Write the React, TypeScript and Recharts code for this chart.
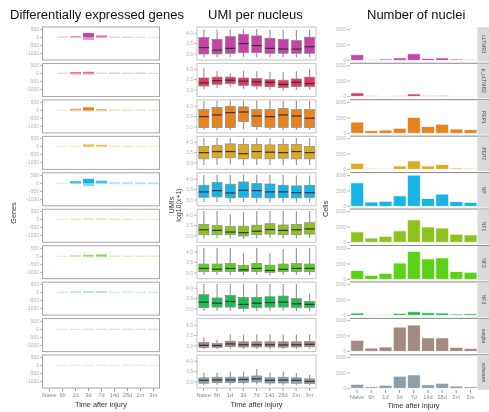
import { BarChart, Bar, XAxis, YAxis, Cell } from 'recharts'

const TIMES = ['Naive', '6h', '1d', '3d', '7d', '14d', '28d', '2m', '3m']
const CELL_TYPES = ['cLTMR1', 'p_cLTMR2', 'PEP1', 'PEP2', 'NP', 'NF1', 'NF2', 'NF3', 'satglia', 'schwann']
const TYPE_COLORS = ['#c843a8', '#e6355f', '#e8831e', '#dcab1f', '#17b4e8', '#8dc21f', '#5ad317', '#1bbf4f', '#a38a80', '#8e9faa']

// DE genes vs naive, 6h..3m
const DE_UP = [
  [50, 80, 270, 125, 45, 45, 35, 30],
  [40, 85, 100, 40, 45, 40, 45, 35],
  [35, 100, 190, 80, 45, 45, 40, 40],
  [35, 40, 125, 100, 45, 45, 40, 40],
  [35, 145, 290, 170, 55, 55, 50, 50],
  [35, 50, 55, 55, 45, 45, 35, 35],
  [35, 65, 100, 120, 45, 45, 40, 40],
  [35, 55, 65, 65, 40, 40, 40, 40],
  [35, 35, 40, 40, 40, 40, 40, 40],
  [35, 35, 35, 35, 25, 35, 35, 35],
]
const DE_DOWN = [
  [-30, -40, -170, -45, -35, -35, -30, -25],
  [-30, -80, -80, -30, -40, -35, -40, -30],
  [-30, -60, -60, -60, -40, -40, -35, -35],
  [-30, -35, -60, -60, -40, -40, -35, -35],
  [-30, -45, -170, -25, -60, -60, -55, -55],
  [-30, -40, -40, -40, -35, -35, -30, -30],
  [-30, -40, -60, -60, -35, -35, -35, -35],
  [-30, -35, -35, -35, -30, -30, -30, -30],
  [-30, -30, -35, -35, -35, -35, -35, -35],
  [-30, -30, -30, -30, -25, -30, -30, -30],
]

// log10(UMI+1) per nucleus
const UMI_LO = [
  [2.84, 2.84, 2.85, 2.86, 2.86, 2.85, 2.85, 2.85, 2.85],
  [3.03, 3.1, 3.15, 3.05, 3.02, 3.0, 2.95, 3.0, 3.0],
  [2.85, 2.85, 2.85, 2.9, 2.86, 2.85, 2.85, 2.85, 2.85],
  [2.9, 2.92, 2.92, 2.9, 2.9, 2.9, 2.9, 2.9, 2.9],
  [2.9, 2.9, 2.88, 2.9, 2.88, 2.88, 2.88, 2.88, 2.88],
  [2.88, 2.88, 2.88, 2.86, 2.88, 2.9, 2.88, 2.88, 2.9],
  [2.9, 2.9, 2.9, 2.9, 2.9, 2.88, 2.9, 2.9, 2.9],
  [2.9, 2.92, 2.92, 2.88, 2.9, 2.92, 2.92, 2.9, 2.9],
  [2.85, 2.86, 2.87, 2.86, 2.86, 2.86, 2.86, 2.86, 2.87],
  [2.86, 2.87, 2.87, 2.87, 2.88, 2.86, 2.86, 2.86, 2.85],
]
const UMI_Q1 = [
  [3.0, 3.0, 3.03, 3.06, 3.06, 3.03, 3.03, 3.03, 3.03],
  [3.19, 3.27, 3.3, 3.22, 3.19, 3.16, 3.11, 3.16, 3.16],
  [2.97, 2.97, 2.97, 3.26, 3.02, 2.98, 2.98, 2.98, 2.97],
  [3.2, 3.25, 3.25, 3.2, 3.23, 3.2, 3.23, 3.2, 3.2],
  [3.13, 3.15, 3.1, 3.13, 3.11, 3.1, 3.11, 3.1, 3.11],
  [3.06, 3.06, 3.06, 3.0, 3.06, 3.09, 3.06, 3.06, 3.09],
  [3.06, 3.06, 3.06, 3.06, 3.06, 3.03, 3.06, 3.06, 3.06],
  [3.06, 3.09, 3.09, 3.03, 3.06, 3.09, 3.09, 3.06, 3.06],
  [2.92, 2.93, 2.97, 2.95, 2.95, 2.95, 2.94, 2.95, 2.96],
  [2.94, 2.97, 2.97, 2.97, 3.0, 2.95, 2.95, 2.94, 2.92],
]
const UMI_MED = [
  [3.31, 3.19, 3.27, 3.5, 3.4, 3.27, 3.24, 3.24, 3.35],
  [3.34, 3.45, 3.47, 3.42, 3.39, 3.37, 3.27, 3.37, 3.31],
  [3.5, 3.58, 3.69, 3.72, 3.53, 3.5, 3.58, 3.53, 3.42],
  [3.5, 3.55, 3.55, 3.45, 3.55, 3.52, 3.5, 3.55, 3.5],
  [3.39, 3.45, 3.34, 3.47, 3.45, 3.39, 3.39, 3.35, 3.35],
  [3.3, 3.27, 3.19, 3.16, 3.23, 3.31, 3.27, 3.3, 3.34],
  [3.22, 3.18, 3.22, 3.15, 3.22, 3.12, 3.18, 3.22, 3.22],
  [3.33, 3.28, 3.36, 3.22, 3.28, 3.31, 3.33, 3.25, 3.22],
  [3.03, 3.02, 3.1, 3.06, 3.06, 3.06, 3.05, 3.06, 3.08],
  [3.08, 3.1, 3.1, 3.12, 3.15, 3.08, 3.09, 3.08, 3.03],
]
const UMI_Q3 = [
  [3.79, 3.71, 3.84, 3.95, 3.87, 3.76, 3.71, 3.65, 3.81],
  [3.58, 3.62, 3.62, 3.58, 3.55, 3.5, 3.47, 3.53, 3.62],
  [3.84, 3.94, 4.0, 3.97, 3.84, 3.84, 3.89, 3.84, 3.84],
  [3.8, 3.84, 3.92, 3.89, 3.89, 3.87, 3.89, 3.89, 3.8],
  [3.71, 3.84, 3.76, 3.87, 3.79, 3.77, 3.71, 3.68, 3.71],
  [3.56, 3.5, 3.45, 3.47, 3.52, 3.59, 3.53, 3.56, 3.64],
  [3.43, 3.43, 3.46, 3.37, 3.46, 3.37, 3.43, 3.45, 3.43],
  [3.69, 3.53, 3.66, 3.56, 3.56, 3.59, 3.62, 3.5, 3.37],
  [3.17, 3.12, 3.23, 3.2, 3.2, 3.2, 3.2, 3.2, 3.21],
  [3.2, 3.23, 3.23, 3.24, 3.29, 3.2, 3.23, 3.2, 3.15],
]
const UMI_HI = [
  [4.19, 4.18, 4.18, 4.2, 4.2, 4.18, 4.17, 4.15, 4.18],
  [4.05, 3.9, 3.82, 3.92, 3.9, 3.88, 3.85, 3.9, 4.0],
  [4.25, 4.27, 4.28, 4.28, 4.27, 4.27, 4.27, 4.27, 4.25],
  [4.2, 4.22, 4.22, 4.2, 4.22, 4.2, 4.2, 4.22, 4.2],
  [4.2, 4.22, 4.2, 4.22, 4.2, 4.2, 4.2, 4.18, 4.18],
  [4.2, 4.2, 4.05, 4.15, 4.2, 4.2, 4.2, 4.2, 4.2],
  [4.2, 4.2, 4.2, 3.95, 4.2, 3.95, 4.15, 4.2, 4.2],
  [4.2, 4.2, 4.2, 4.2, 4.2, 4.2, 4.2, 4.2, 3.75],
  [3.42, 3.3, 3.55, 3.55, 3.55, 3.55, 3.55, 3.55, 3.55],
  [3.44, 3.44, 3.5, 3.5, 3.62, 3.44, 3.5, 3.44, 3.35],
]

const NUCLEI = [
  [560, 70, 130, 250, 650, 190, 250, 130, 90],
  [340, 70, 35, 70, 240, 70, 100, 40, 35],
  [1100, 270, 330, 500, 1560, 670, 900, 430, 370],
  [600, 100, 100, 330, 830, 330, 470, 130, 100],
  [2300, 430, 500, 1030, 3050, 770, 1200, 470, 400],
  [1030, 430, 600, 1130, 2200, 1500, 1400, 800, 730],
  [870, 400, 600, 1600, 2730, 2000, 2100, 770, 700],
  [230, 65, 100, 200, 360, 260, 230, 130, 160],
  [1090, 330, 430, 2370, 2570, 1320, 1320, 400, 300],
  [400, 165, 300, 1190, 1320, 360, 500, 230, 165],
]

const FONT = '"Liberation Sans", Arial, sans-serif'
const PITCH = 36.45
const TOP = 27
const H = 33
const RTOP = 26.8
const RH = 35
const N = CELL_TYPES.length

const yTick = { fontSize: 5, fill: '#b3b3b3', fontFamily: FONT }
const xTick = { fontSize: 5.6, fill: '#8c8c8c', fontFamily: FONT }
const layer = { position: 'absolute' as const, willChange: 'transform' }

const deAlpha = (up: number, down: number) => 0.15 + 0.85 * Math.min(1, (up - down) / 250)

function BoxShape(props: any) {
  const { x, y, width, height, payload, fill } = props
  const top = Math.min(y, y + height)
  const h = Math.abs(height)
  const ppu = h / (payload.q3 - payload.q1)
  const yOf = (v: number) => top + (payload.q3 - v) * ppu
  const cx = x + width / 2
  return (
    <g>
      <line x1={cx} x2={cx} y1={yOf(payload.hi)} y2={top} stroke="#9a9a9a" strokeWidth={1.2} />
      <line x1={cx} x2={cx} y1={top + h} y2={yOf(payload.lo)} stroke="#9a9a9a" strokeWidth={1.2} />
      <rect x={x} y={top} width={width} height={h} fill={fill} stroke="#8a8a8a" strokeWidth={0.7} />
      <line x1={x} x2={x + width} y1={yOf(payload.med)} y2={yOf(payload.med)} stroke="#333" strokeWidth={1.2} />
    </g>
  )
}

function DePanel({ i }: { i: number }) {
  const last = i === N - 1
  const data = TIMES.map((t, j) => (j === 0 ? { time: t, up: null, down: null } : { time: t, up: DE_UP[i][j - 1], down: DE_DOWN[i][j - 1] }))
  const color = TYPE_COLORS[i]
  return (
    <div style={{ ...layer, left: 0.5, top: TOP + i * PITCH - 3 }}>
      <BarChart width={159} height={H + 3 + (last ? 14 : 3)} data={data} margin={{ top: 3, right: 0, bottom: last ? 0 : 3, left: 0 }} stackOffset="sign" barCategoryGap="8%">
        <XAxis dataKey="time" hide={!last} height={14} interval={0} tick={xTick} tickSize={3} tickMargin={2} tickLine={{ stroke: '#999' }} axisLine={false} />
        <YAxis width={42} domain={[-1420, 650]} allowDataOverflow ticks={[500, 0, -500, -1000]} interval={0} tick={yTick} tickSize={3} tickMargin={1} tickLine={{ stroke: '#b3b3b3' }} axisLine={false} />
        <Bar dataKey="up" stackId="de" isAnimationActive={false}>
          {data.map((d, j) => (
            <Cell key={`u-${j}`} fill={color} fillOpacity={d.up == null ? 0 : deAlpha(d.up, d.down as number)} />
          ))}
        </Bar>
        <Bar dataKey="down" stackId="de" isAnimationActive={false}>
          {data.map((d, j) => (
            <Cell key={`d-${j}`} fill={color} fillOpacity={d.up == null ? 0 : deAlpha(d.up, d.down as number) * 0.55} />
          ))}
        </Bar>
      </BarChart>
    </div>
  )
}

function UmiPanel({ i }: { i: number }) {
  const last = i === N - 1
  const data = TIMES.map((t, j) => ({
    time: t,
    box: [UMI_Q1[i][j], UMI_Q3[i][j]],
    lo: UMI_LO[i][j],
    q1: UMI_Q1[i][j],
    med: UMI_MED[i][j],
    q3: UMI_Q3[i][j],
    hi: UMI_HI[i][j],
  }))
  return (
    <div style={{ ...layer, left: 165, top: TOP + i * PITCH - 3 }}>
      <BarChart width={151} height={H + 3 + (last ? 14 : 3)} data={data} margin={{ top: 3, right: 0, bottom: last ? 0 : 3, left: 0 }} barCategoryGap="14%">
        <XAxis dataKey="time" hide={!last} height={14} interval={0} tick={xTick} tickSize={3} tickMargin={2.5} tickLine={{ stroke: '#999' }} axisLine={false} />
        <YAxis width={32} domain={[2.71, 4.3]} allowDataOverflow ticks={[3.0, 3.5, 4.0]} interval={0} tickFormatter={(v: number) => v.toFixed(1)} tick={yTick} tickSize={3} tickMargin={1} tickLine={{ stroke: '#b3b3b3' }} axisLine={false} />
        <Bar dataKey="box" fill={TYPE_COLORS[i]} shape={BoxShape} isAnimationActive={false} />
      </BarChart>
    </div>
  )
}

function NucleiPanel({ i }: { i: number }) {
  const last = i === N - 1
  const data = TIMES.map((t, j) => ({ time: t, cells: NUCLEI[i][j] }))
  return (
    <div style={{ ...layer, left: 326, top: RTOP + i * PITCH - 3 }}>
      <BarChart width={151.5} height={RH + 3 + (last ? 14 : 3)} data={data} margin={{ top: 3, right: 0, bottom: last ? 0 : 3, left: 0 }} barCategoryGap="5%">
        <XAxis dataKey="time" hide={!last} height={14} interval={0} tick={xTick} tickSize={3} tickMargin={2.5} tickLine={{ stroke: '#999' }} axisLine={false} />
        <YAxis width={24} domain={[-155, 3255]} allowDataOverflow ticks={[0, 1500, 3000]} interval={0} tick={{ ...yTick, fontSize: 4.6 }} tickSize={3} tickMargin={1} tickLine={{ stroke: '#b3b3b3' }} axisLine={false} />
        <Bar dataKey="cells" fill={TYPE_COLORS[i]} stroke="#ffffff" strokeWidth={0.8} isAnimationActive={false} />
      </BarChart>
    </div>
  )
}

export default function App() {
  const rows = CELL_TYPES.map((_, i) => i)
  return (
    <div style={{ position: 'absolute', left: 0, top: 0, width: 489, height: 412, background: '#fff', overflow: 'hidden', fontFamily: FONT }}>
      {rows.map((i) => (
        <DePanel key={`de-${i}`} i={i} />
      ))}
      {rows.map((i) => (
        <UmiPanel key={`umi-${i}`} i={i} />
      ))}
      {rows.map((i) => (
        <NucleiPanel key={`nuc-${i}`} i={i} />
      ))}
      <svg width={489} height={412} style={{ ...layer, left: 0, top: 0, pointerEvents: 'none' }} fontFamily={FONT}>
        {rows.map((i) => (
          <g key={`frame-${i}`}>
            <rect x={42.5} y={TOP + i * PITCH} width={117} height={H} fill="none" stroke="#a6a6a6" strokeWidth={1} />
            <rect x={197} y={TOP + i * PITCH} width={119} height={H} fill="none" stroke="#c4c4c4" strokeWidth={1} />
            {i > 0 && <line x1={350} x2={489} y1={RTOP + i * PITCH} y2={RTOP + i * PITCH} stroke="#666" strokeWidth={0.8} />}
            <rect x={477.5} y={RTOP + i * PITCH + 0.4} width={12} height={RH - 0.4} fill="#d9d9d9" />
            <text
              x={483.5}
              y={RTOP + i * PITCH + RH / 2}
              transform={`rotate(90 483.5 ${RTOP + i * PITCH + RH / 2})`}
              textAnchor="middle"
              dominantBaseline="central"
              fontSize={5}
              fill="#555"
            >
              {CELL_TYPES[i]}
            </text>
          </g>
        ))}
        <text x={10} y={19.3} fontSize={13} fill="#111">Differentially expressed genes</text>
        <text x={208} y={19.3} fontSize={13} fill="#111">UMI per nucleus</text>
        <text x={367} y={19.3} fontSize={13} fill="#111">Number of nuclei</text>

        <text x={101} y={406.5} fontSize={7.3} fill="#333" textAnchor="middle">Time after injury</text>
        <text x={256.5} y={406.5} fontSize={7.3} fill="#333" textAnchor="middle">Time after injury</text>
        <text x={413.5} y={408} fontSize={7.3} fill="#333" textAnchor="middle">Time after injury</text>

        <text x={16} y={213} fontSize={7.3} fill="#333" textAnchor="middle" transform="rotate(-90 16 213)">Genes</text>
        <text x={174} y={205} fontSize={7} fill="#333" textAnchor="middle" transform="rotate(-90 174 205)">UMIs</text>
        <text x={181} y={205} fontSize={7} fill="#333" textAnchor="middle" transform="rotate(-90 181 205)">log10(x+1)</text>
        <text x={328} y={209} fontSize={7.3} fill="#333" textAnchor="middle" transform="rotate(-90 328 209)">Cells</text>
      </svg>
    </div>
  )
}
